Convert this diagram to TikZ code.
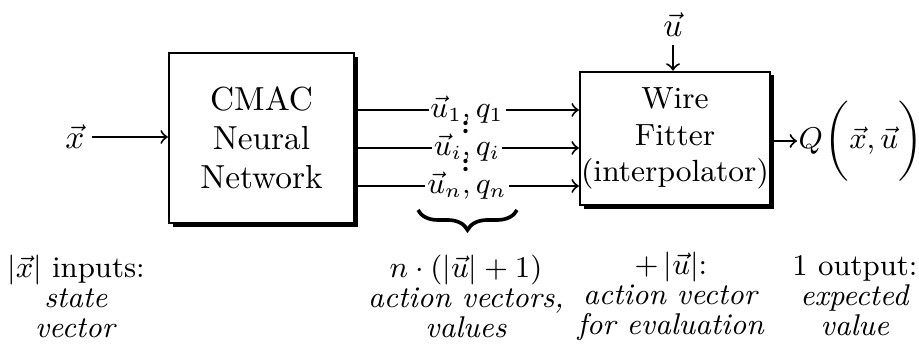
\documentclass[tikz,border=0pt]{standalone}
\usetikzlibrary{shadows,decorations.pathreplacing,calc}
\begin{document}
\begin{tikzpicture}[x=0.3pt,y=-0.3pt,
  blk/.style={draw, line width=0.7pt, fill=white, align=center, inner sep=0pt,
    drop shadow={shadow xshift=1.1pt, shadow yshift=-1.1pt, fill=black, opacity=1}},
  conn/.style={->, line width=0.6pt},
  lbl/.style={fill=white, inner sep=0.6pt, font=\small},
  note/.style={align=center, font=\small, execute at begin node={\setlength{\baselineskip}{9pt}}},
  dotmark/.style={fill=black, draw=none, circle, inner sep=0pt, minimum size=1.3pt}]
\useasboundingbox (0,0) rectangle (919,354);

% blocks
\node[blk, minimum width=55.5pt, minimum height=51pt,
  execute at begin node={\setlength{\baselineskip}{11.7pt}}] (cmac) at (261.5,138) {CMAC\\Neural\\Network};
\node[blk, minimum width=57pt, minimum height=40pt, font=\fontsize{9.2}{11}\selectfont] (wf) at (675,138.5) {Wire\\Fitter\\(interpolator)};

% input x
\node[inner sep=2pt] (xin) at (75,137) {$\vec{x}$};
\draw[conn] (xin.east) -- (cmac.west |- xin);

% input u
\node[inner sep=1pt] (uin) at (673,25) {$\vec{u}$};
\draw[conn] ($(uin.south)+(0,4)$) -- (uin.south |- wf.north);

% connections
\coordinate (r1) at (0,110);
\coordinate (r2) at (0,148);
\coordinate (r3) at (0,186);
\draw[conn] (cmac.east |- r1) -- (wf.west |- r1);
\draw[conn] (cmac.east |- r2) -- (wf.west |- r2);
\draw[conn] (cmac.east |- r3) -- (wf.west |- r3);
\node[lbl] (l1) at (467,110) {$\vec{u}_1{,}\,q_1$};
\node[lbl] (l2) at (467,148) {$\vec{u}_i{,}\,q_i$};
\node[lbl] (l3) at (467,186) {$\vec{u}_n{,}\,q_n$};
% vertical dots between the rows
\node[dotmark] (d1) at (465.5,123) {};
\node[dotmark] (d2) at (465.5,131) {};
\node[dotmark] (d3) at (465.5,161) {};
\node[dotmark] (d4) at (465.5,169) {};

% brace
\coordinate (b1) at (418,210);
\coordinate (b2) at (517,210);
\draw[decorate, decoration={brace, mirror, amplitude=6pt}, line width=1.1pt] (b1) -- (b2);

% output
\node[anchor=west, inner sep=0.3pt, font=\fontsize{9}{11}\selectfont] (q) at (797,141) {$Q\mkern1mu\bigg(\vec{x},\vec{u}\bigg)$};
\draw[conn] (wf.east |- q.west) -- (q.west);

% notes
\node[note] (n1) at (76,296) {$|\vec{x}|$ inputs:\\\textit{state}\\\textit{vector}};
\node[note] (n2) at (466,296) {$n\cdot(|\vec{u}|+1)$\\\textit{action vectors,}\\\textit{values}};
\node[note] (n3) at (671,296) {$+\,|\vec{u}|$:\\\textit{action vector}\\\textit{for evaluation}};
\node[note] (n4) at (855,296) {1 output:\\\textit{expected}\\\textit{value}};
\end{tikzpicture}
\end{document}
